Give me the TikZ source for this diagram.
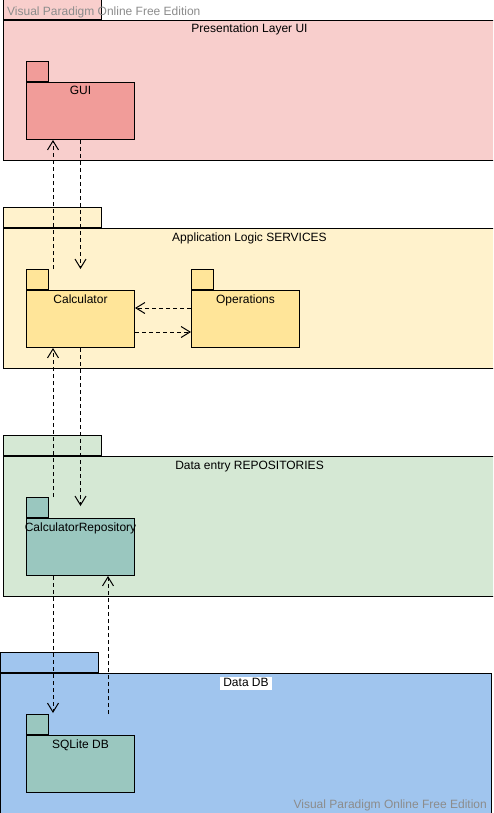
\documentclass[tikz,border=0pt]{standalone}
\usepackage{fontspec}
\setmainfont{Liberation Sans}
\usetikzlibrary{calc,positioning,arrows.meta}
\tikzset {>={Straight Barb[length=9pt,width=11pt,line width=1pt]}}

\definecolor{uipink}{HTML}{F8CECC}
\definecolor{guired}{HTML}{F19C99}
\definecolor{svcyellow}{HTML}{FFF2CC}
\definecolor{calcyellow}{HTML}{FFE599}
\definecolor{repogreen}{HTML}{D5E8D4}
\definecolor{teal}{HTML}{9AC7BF}
\definecolor{dbblue}{HTML}{A0C5EE}
\definecolor{mark}{HTML}{8C8C8C}

\tikzset{
  pkgbody/.style={draw,line width=1pt,inner sep=0pt,anchor=north west},
  pkgtab/.style={draw,line width=1pt,inner sep=0pt,anchor=south west,
    minimum width=22pt,minimum height=20pt},
  layerbody/.style={pkgbody,minimum width=492pt,minimum height=140pt},
  layertab/.style={pkgtab,minimum width=98pt},
  unit/.style={pkgbody,minimum width=108pt,minimum height=57pt},
  title/.style={anchor=base,inner sep=0pt,font=\fontsize{12}{14}\selectfont},
  watermark/.style={title,text=mark},
  dep/.style={->,line width=1pt,dash pattern=on 4pt off 3pt}
}

\begin{document}
\begin{tikzpicture}[x=1pt,y=-1pt]
\clip (0,0) rectangle (493,813);
\fill[white] (0,0) rectangle (493,813);

% presentation layer
\node[layertab,fill=uipink] (uitab) at (3,20) {};
\node[layerbody,fill=uipink] (ui) at (3,20) {};
\node[title] (uititle) at ($(ui.north)+(0,13)$) {Presentation Layer UI};
\node[pkgtab,fill=guired] (guitab) at (26,82) {};
\node[unit,fill=guired] (gui) at (26,82) {};
\node[title] (guititle) at ($(gui.north)+(0,13)$) {GUI};

% services layer
\node[layertab,fill=svcyellow] (svctab) at (3,228) {};
\node[layerbody,fill=svcyellow] (svc) at (3,228) {};
\node[title] (svctitle) at ($(svc.north)+(0,13)$) {Application Logic SERVICES};
\node[pkgtab,fill=calcyellow] (calctab) at (26,290) {};
\node[unit,fill=calcyellow] (calc) at (26,290) {};
\node[title] (calctitle) at ($(calc.north)+(0,13)$) {Calculator};
\node[pkgtab,fill=calcyellow] (opstab) at (191,290) {};
\node[unit,fill=calcyellow] (ops) at (191,290) {};
\node[title] (opstitle) at ($(ops.north)+(0,13)$) {Operations};

% repositories layer
\node[layertab,fill=repogreen] (repotab) at (3,456) {};
\node[layerbody,fill=repogreen] (repos) at (3,456) {};
\node[title] (repostitle) at ($(repos.north)+(0,13)$) {Data entry REPOSITORIES};
\node[pkgtab,fill=teal] (calcrepotab) at (26,518) {};
\node[unit,fill=teal] (calcrepo) at (26,518) {};
\node[title] (calcrepotitle) at ($(calcrepo.north)+(0,13)$) {CalculatorRepository};

% database layer
\node[layertab,fill=dbblue] (dbtab) at (0,673) {};
\node[layerbody,fill=dbblue,minimum width=491pt,minimum height=150pt] (db) at (0,673) {};
\node[title,fill=white,inner xsep=3.5pt,text height=9pt,text depth=3.5pt] (dbtitle) at ($(db.north)+(0,13)$) {Data DB};
\node[pkgtab,fill=teal] (sqlitetab) at (26,735) {};
\node[unit,fill=teal] (sqlite) at (26,735) {};
\node[title] (sqlitetitle) at ($(sqlite.north)+(0,13)$) {SQLite DB};

% dependencies
\draw[dep] (gui.south) -- (gui.south |- calctab.north);
\draw[dep] ($(calctab.north west)+(27,0)$) -- ($(gui.south west)+(27,0)$);
\draw[dep] ($(ops.north west)+(0,18)$) -- ($(calc.north east)+(0,18)$);
\draw[dep] ($(calc.north east)+(0,42)$) -- ($(ops.north west)+(0,42)$);
\draw[dep] (calc.south) -- ($(calcrepo.north)+(0,-12)$);
\draw[dep] ($(calcrepotab.north west)+(27,0)$) -- ($(calc.south west)+(27,0)$);
\draw[dep] ($(calcrepo.south west)+(27,0)$) -- ($(calcrepo.south west |- sqlitetab.north)+(27,-1)$);
\draw[dep] ($(calcrepo.south west |- sqlitetab.north)+(82,0)$) -- ($(calcrepo.south west)+(82,0)$);

% watermarks
\node[watermark,anchor=base west] (marktop) at (7,16) {Visual Paradigm Online Free Edition};
\node[watermark,anchor=base east] (markbottom) at (487,808) {Visual Paradigm Online Free Edition};
\end{tikzpicture}
\end{document}
